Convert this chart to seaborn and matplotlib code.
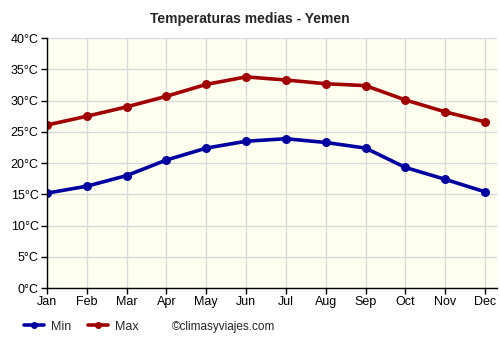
import pandas as pd
import matplotlib
matplotlib.use("Agg")
import matplotlib.pyplot as plt
import seaborn as sns
from matplotlib.lines import Line2D

# Datos
meses = ["Jan", "Feb", "Mar", "Apr", "May", "Jun", "Jul", "Aug", "Sep", "Oct", "Nov", "Dec"]
temp_min = [15.2, 16.3, 18.0, 20.5, 22.4, 23.5, 23.9, 23.3, 22.4, 19.3, 17.4, 15.4]
temp_max = [26.1, 27.5, 29.0, 30.7, 32.6, 33.8, 33.3, 32.7, 32.4, 30.1, 28.2, 26.6]
ticks_y = [0, 5, 10, 15, 20, 25, 30, 35, 40]

df = pd.DataFrame({"mes": range(len(meses)), "Min": temp_min, "Max": temp_max})
df_largo = df.melt(id_vars="mes", var_name="serie", value_name="temp")

sns.set_theme(style="whitegrid")
plt.rcParams['font.family'] = ['Liberation Sans', 'DejaVu Sans']

fig = plt.figure(figsize=(5, 3.5), dpi=100)
ax = fig.add_axes([0.094, 0.177, 0.90, 0.714])
ax.set_facecolor("#fffff0")

sns.lineplot(data=df_largo, x="mes", y="temp", hue="serie",
             palette={"Min": "#0000a0", "Max": "#a00000"},
             hue_order=["Min", "Max"], marker="o", markersize=6.5,
             markeredgewidth=0, linewidth=2.6, ax=ax, legend=False)

ax.set_xlim(0, 11.3)
ax.set_ylim(0, 40)
ax.set_xticks(range(len(meses)))
ax.set_xticklabels(meses)
ax.set_yticks(ticks_y)
ax.set_yticklabels([f"{t}°C" for t in ticks_y])
ax.set_xlabel("")
ax.set_ylabel("")
ax.grid(True, color="#d8d8d8", linewidth=1)
ax.tick_params(axis="both", labelsize=9, colors="black", length=4, width=1,
               direction="out", pad=2, left=True, bottom=True)
for lado in ["top", "right"]:
    ax.spines[lado].set_visible(False)
for lado in ["left", "bottom"]:
    ax.spines[lado].set_color("black")
    ax.spines[lado].set_linewidth(1)

fig.text(0.5, 0.945, "Temperaturas medias - Yemen", ha="center", va="center",
         fontsize=10, fontweight="bold")

# Leyenda manual abajo
manejadores = [Line2D([0], [0], color="#0000a0", lw=2.6, marker="o", markersize=4),
               Line2D([0], [0], color="#a00000", lw=2.6, marker="o", markersize=4)]
fig.legend(manejadores, ["Min", "Max"], loc="center left", bbox_to_anchor=(0.048, 0.067),
           ncol=2, frameon=False, fontsize=9, handlelength=1.6, columnspacing=1.3,
           handletextpad=0.6, borderpad=0, borderaxespad=0)
fig.text(0.344, 0.067, "©climasyviajes.com", ha="left", va="center", fontsize=8.5)

fig.savefig("out.png", dpi=100)
